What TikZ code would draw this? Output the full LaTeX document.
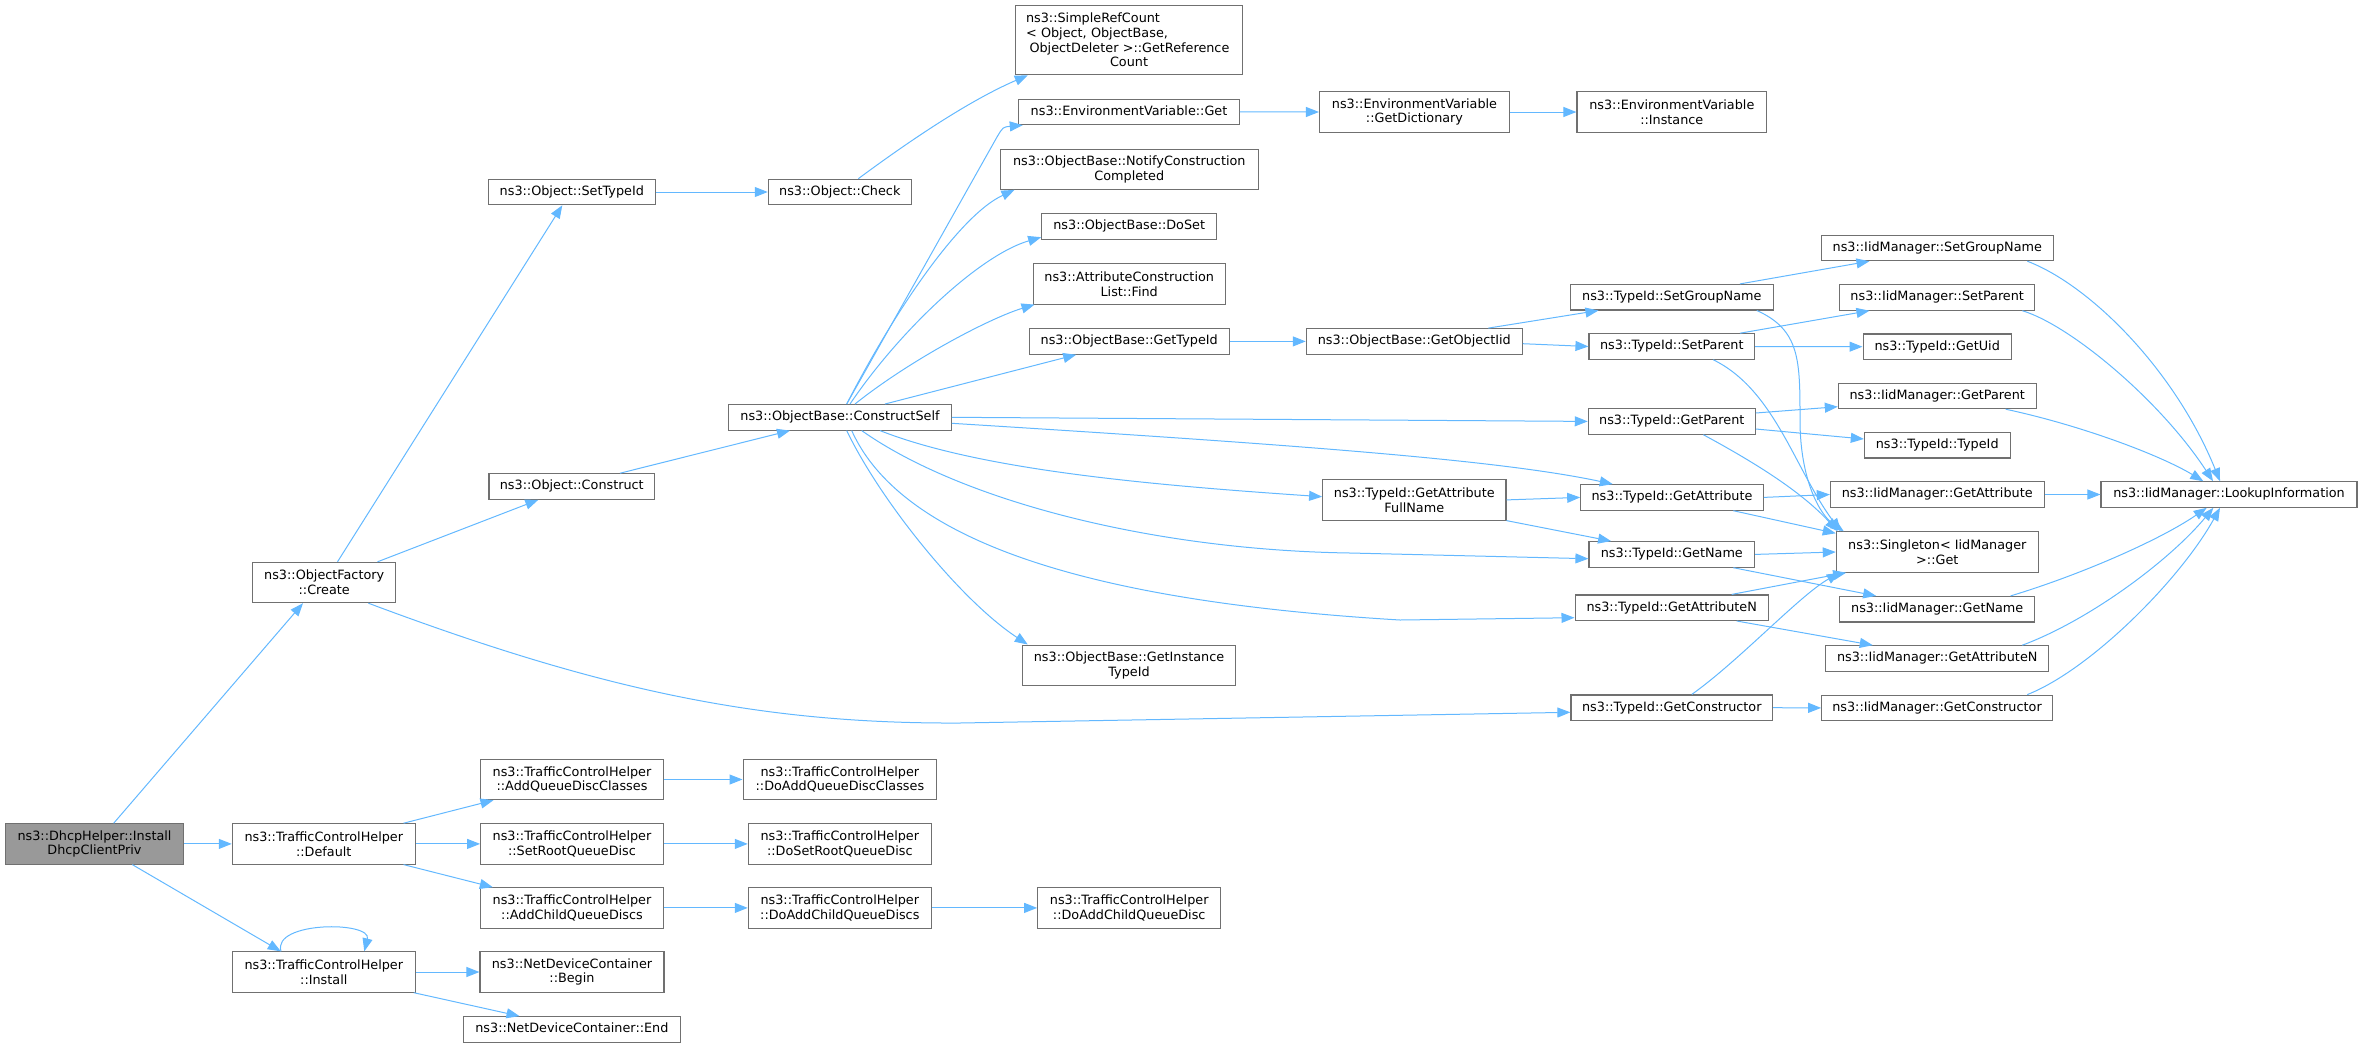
\documentclass[tikz,border=0pt]{standalone}
\usepackage{fontspec}
\setmainfont{DejaVu Sans}
\usetikzlibrary{arrows.meta}
\definecolor{callblue}{HTML}{63B8FF}
\definecolor{boxline}{HTML}{707070}
\definecolor{rootfill}{HTML}{999999}

\begin{document}
\begin{tikzpicture}[x=1pt,y=-1pt,
	fn/.style={draw=boxline,line width=1.1pt,fill=white,rectangle,inner sep=1pt,align=center,
		font=\fontsize{12.8pt}{14.7pt}\selectfont,minimum height=25.5pt},
	one/.style={text height=9.5pt,text depth=2.7pt},
	two/.style={minimum height=40.3pt},
	call/.style={draw=callblue,line width=1pt,-{Triangle[length=13pt,width=10pt]}}]
	\useasboundingbox (0,0) rectangle (2363,1047);
	% Nodes
	\node[fn,two,fill=rootfill,minimum width=177.6pt] (root) at (94.5,843.9) {ns3::DhcpHelper::Install\\DhcpClientPriv};
	\node[fn,two,minimum width=143pt] (create) at (324.2,582.5) {ns3::ObjectFactory\\::Create};
	\node[fn,one,minimum width=167pt] (settypeid) at (571.8,192) {ns3::Object::SetTypeId};
	\node[fn,one,minimum width=165.7pt] (construct) at (571.8,486.5) {ns3::Object::Construct};
	\node[fn,one,minimum width=143pt] (check) at (839.8,192) {ns3::Object::Check};
	\node[fn,one,minimum width=222.6pt] (constructself) at (840,417.3) {ns3::ObjectBase::ConstructSelf};
	\node[fn,align=left,text width=206pt,minimum width=227.4pt,minimum height=69.7pt] (refcount) at (1129,39.9)
		{ns3::SimpleRefCount\\< Object, ObjectBase,\\\hspace{3.5pt}ObjectDeleter >::GetReference\\\makebox[\hsize]{Count}};
	\node[fn,one,minimum width=220.6pt] (envget) at (1129,111.9) {ns3::EnvironmentVariable::Get};
	\node[fn,two,minimum width=190pt] (getdict) at (1414.5,112) {ns3::EnvironmentVariable\\::GetDictionary};
	\node[fn,two,minimum width=189.7pt] (instance) at (1671.8,112) {ns3::EnvironmentVariable\\::Instance};
	\node[fn,two,minimum width=258pt] (notify) at (1129.3,169.2) {ns3::ObjectBase::NotifyConstruction\\Completed};
	\node[fn,one,minimum width=175pt] (doset) at (1129.2,226.5) {ns3::ObjectBase::DoSet};
	\node[fn,two,minimum width=192.3pt] (find) at (1129.2,283.9) {ns3::AttributeConstruction\\List::Find};
	\node[fn,one,minimum width=200.3pt] (obgettypeid) at (1129.2,341.4) {ns3::ObjectBase::GetTypeId};
	\node[fn,two,minimum width=213.4pt] (instancetypeid) at (1129,665.2) {ns3::ObjectBase::GetInstance\\TypeId};
	\node[fn,one,minimum width=216pt] (getobjectiid) at (1414.3,341.4) {ns3::ObjectBase::GetObjectIid};
	\node[fn,two,minimum width=183.3pt] (fullname) at (1414.3,499.9) {ns3::TypeId::GetAttribute\\FullName};
	\node[fn,one,minimum width=203pt] (tsetgroupname) at (1671.8,297.2) {ns3::TypeId::SetGroupName};
	\node[fn,one,minimum width=165.7pt] (tsetparent) at (1671.8,346.5) {ns3::TypeId::SetParent};
	\node[fn,one,minimum width=167pt] (tgetparent) at (1671.8,421.4) {ns3::TypeId::GetParent};
	\node[fn,one,minimum width=182.6pt] (tgetattribute) at (1672,497.4) {ns3::TypeId::GetAttribute};
	\node[fn,one,minimum width=165.7pt] (tgetname) at (1671.8,554.4) {ns3::TypeId::GetName};
	\node[fn,one,minimum width=193.3pt] (tgetattributen) at (1671.7,607.7) {ns3::TypeId::GetAttributeN};
	\node[fn,one,minimum width=201.7pt] (tgetconstructor) at (1671.8,707.7) {ns3::TypeId::GetConstructor};
	\node[fn,one,minimum width=232pt] (isetgroupname) at (1937.3,247.9) {ns3::IidManager::SetGroupName};
	\node[fn,one,minimum width=195pt] (isetparent) at (1937.2,297.4) {ns3::IidManager::SetParent};
	\node[fn,one,minimum width=148.3pt] (tgetuid) at (1937.2,346.7) {ns3::TypeId::GetUid};
	\node[fn,one,minimum width=197.7pt] (igetparent) at (1937.2,395.9) {ns3::IidManager::GetParent};
	\node[fn,one,minimum width=145.7pt] (ttypeid) at (1937.2,445.2) {ns3::TypeId::TypeId};
	\node[fn,one,minimum width=213.7pt] (igetattribute) at (1937.2,494.5) {ns3::IidManager::GetAttribute};
	\node[fn,two,minimum width=202pt] (singleton) at (1937.3,552) {ns3::Singleton< IidManager\\>::Get};
	\node[fn,one,minimum width=195pt] (igetname) at (1937.2,609.2) {ns3::IidManager::GetName};
	\node[fn,one,minimum width=223pt] (igetattributen) at (1937.2,658.5) {ns3::IidManager::GetAttributeN};
	\node[fn,one,minimum width=230.6pt] (igetconstructor) at (1937,707.9) {ns3::IidManager::GetConstructor};
	\node[fn,one,minimum width=256pt] (lookup) at (2229,494.5) {ns3::IidManager::LookupInformation};
	\node[fn,two,minimum width=183pt] (tchdefault) at (323.8,843.9) {ns3::TrafficControlHelper\\::Default};
	\node[fn,two,minimum width=183pt] (tchinstall) at (323.8,972) {ns3::TrafficControlHelper\\::Install};
	\node[fn,two,minimum width=182.7pt] (addclasses) at (572,779.5) {ns3::TrafficControlHelper\\::AddQueueDiscClasses};
	\node[fn,two,minimum width=193.7pt] (doaddclasses) at (839.9,779.5) {ns3::TrafficControlHelper\\::DoAddQueueDiscClasses};
	\node[fn,two,minimum width=182.7pt] (setroot) at (572,843.9) {ns3::TrafficControlHelper\\::SetRootQueueDisc};
	\node[fn,two,minimum width=183pt] (dosetroot) at (839.8,843.9) {ns3::TrafficControlHelper\\::DoSetRootQueueDisc};
	\node[fn,two,minimum width=182.7pt] (addchild) at (572,907.9) {ns3::TrafficControlHelper\\::AddChildQueueDiscs};
	\node[fn,two,minimum width=183pt] (doaddchilds) at (839.8,907.9) {ns3::TrafficControlHelper\\::DoAddChildQueueDiscs};
	\node[fn,two,minimum width=183pt] (doaddchild) at (1129.2,907.9) {ns3::TrafficControlHelper\\::DoAddChildQueueDisc};
	\node[fn,two,minimum width=184pt] (ndcbegin) at (572,972) {ns3::NetDeviceContainer\\::Begin};
	\node[fn,one,minimum width=216.3pt] (ndcend) at (571.9,1029.4) {ns3::NetDeviceContainer::End};
	%Calls
	\draw [call] ([xshift=19.2pt]root.north) -- ([xshift=-21.2pt]create.south);
	\draw [call] (root.east) -- (tchdefault.west);
	\draw [call] ([xshift=37.8pt]root.south) -- ([xshift=-43pt]tchinstall.north);
	\draw [call] ([xshift=13.3pt]create.north) -- ([xshift=-9.5pt]settypeid.south);
	\draw [call] ([xshift=53.3pt]create.north) -- ([xshift=-33.5pt]construct.south);
	\draw [call] ([xshift=44.2pt]create.south) .. controls (600,690) and (760,724) .. (960,723) -- ([yshift=-4.6pt]tgetconstructor.west);
	\draw [call] (settypeid.east) -- (check.west);
	\draw [call] ([xshift=18.5pt]check.north) .. controls (920,133) and (975,98) .. ([xshift=13pt]refcount.south west);
	\draw [call] ([xshift=48.2pt]construct.north) -- ([xshift=-50pt]constructself.south);
	%ConstructSelf
	\draw [call] ([xshift=6.7pt]constructself.north) -- (997,137) .. controls (1003,127) .. ([xshift=4.6pt]envget.south west);
	\draw [call] ([xshift=6.7pt]constructself.north) .. controls (895,310) and (960,215) .. ([xshift=14.7pt]notify.south west);
	\draw [call] ([xshift=10pt]constructself.north) .. controls (900,330) and (980,255) .. ([yshift=2.6pt]doset.south west);
	\draw [call] ([xshift=15pt]constructself.north) .. controls (910,360) and (990,318) .. ([xshift=2pt]find.south west);
	\draw [call] ([xshift=45pt]constructself.north) -- ([xshift=47.7pt]obgettypeid.south west);
	\draw [call] (constructself.east) -- (tgetparent.west);
	\draw [call] ([yshift=-6pt]constructself.east) .. controls (1300,445) and (1500,460) .. ([xshift=32.6pt]tgetattribute.north west);
	\draw [call] ([xshift=40pt]constructself.south) .. controls (980,470) and (1150,485) .. ([yshift=3.2pt]fullname.west);
	\draw [call] ([xshift=21.7pt]constructself.south) .. controls (960,500) and (1150,550) .. (1350,553) -- ([yshift=-4.3pt]tgetname.west);
	\draw [call] ([xshift=11.7pt]constructself.south) .. controls (910,560) and (1150,605) .. (1400,620) -- ([yshift=-10pt]tgetattributen.west);
	\draw [call] ([xshift=6.7pt]constructself.south) .. controls (880,500) and (960,600) .. ([xshift=6pt]instancetypeid.north west);
	\draw [call] (envget.east) -- (getdict.west);
	\draw [call] (getdict.east) -- (instance.west);
	\draw [call] (obgettypeid.east) -- (getobjectiid.west);
	\draw [call] ([xshift=74pt]getobjectiid.north) -- ([xshift=28.7pt]tsetgroupname.south west);
	\draw [call] ([yshift=-2.3pt]getobjectiid.east) -- (tsetparent.west);
	%TypeId
	\draw [call] ([xshift=68.2pt]tsetgroupname.north) -- ([xshift=48.7pt]isetgroupname.south west);
	\draw [call] ([xshift=85pt]tsetgroupname.south) .. controls (1800,330) and (1800,360) .. (1800,420) .. controls (1800,480) and (1820,515) .. ([xshift=8pt]singleton.north west);
	\draw [call] ([xshift=68.2pt]tsetparent.north) -- ([xshift=30.3pt]isetparent.south west);
	\draw [call] (tsetparent.east) -- (tgetuid.west);
	\draw [call] ([xshift=41.5pt]tsetparent.south) .. controls (1775,390) and (1795,470) .. ([xshift=5pt]singleton.north west);
	\draw [call] ([yshift=8.4pt]tgetparent.east) -- ([yshift=-10.8pt]igetparent.west);
	\draw [call] ([yshift=-7.6pt]tgetparent.east) -- ([yshift=6.2pt]ttypeid.west);
	\draw [call] ([xshift=31.5pt]tgetparent.south) .. controls (1750,460) and (1800,490) .. ([xshift=2pt]singleton.north west);
	\draw [call] (fullname.east) -- (tgetattribute.west);
	\draw [call] (fullname.south east) -- ([xshift=22.7pt]tgetname.north west);
	\draw [call] (tgetattribute.east) -- (igetattribute.west);
	\draw [call] ([xshift=61.3pt]tgetattribute.south) -- ([yshift=-2pt]singleton.north west);
	\draw [call] (tgetname.east) -- (singleton.west);
	\draw [call] ([xshift=61.5pt]tgetname.south) -- ([xshift=37pt]igetname.north west);
	\draw [call] ([xshift=60pt]tgetattributen.north) -- ([xshift=10.4pt]singleton.south west);
	\draw [call] ([xshift=65pt]tgetattributen.south) -- ([xshift=47.6pt]igetattributen.north west);
	\draw [call] ([xshift=20pt]tgetconstructor.north) .. controls (1740,660) and (1800,595) .. ([xshift=4pt]singleton.south west);
	\draw [call] (tgetconstructor.east) -- (igetconstructor.west);
	%IidManager
	\draw [call] ([xshift=-26.6pt]isetgroupname.south east) .. controls (2090,285) and (2175,370) .. ([xshift=-9pt]lookup.north);
	\draw [call] ([xshift=-13pt]isetparent.south east) .. controls (2070,325) and (2160,400) .. ([xshift=-16pt]lookup.north);
	\draw [call] ([xshift=-31pt]igetparent.south east) .. controls (2080,425) and (2160,455) .. ([xshift=-25.7pt]lookup.north);
	\draw [call] (igetattribute.east) -- (lookup.west);
	\draw [call] ([xshift=-24.7pt]igetname.north east) .. controls (2080,575) and (2160,540) .. ([xshift=-22.3pt]lookup.south);
	\draw [call] ([xshift=-27pt]igetattributen.north east) .. controls (2090,620) and (2170,560) .. ([xshift=-15.7pt]lookup.south);
	\draw [call] ([xshift=-25.6pt]igetconstructor.north east) .. controls (2090,670) and (2180,580) .. ([xshift=-9pt]lookup.south);
	%TrafficControlHelper
	\draw [call] ([xshift=-12.3pt]tchdefault.north east) -- ([xshift=13.4pt]addclasses.south west);
	\draw [call] (tchdefault.east) -- (setroot.west);
	\draw [call] ([xshift=-12.3pt]tchdefault.south east) -- ([xshift=12.7pt]addchild.north west);
	\draw [call] (addclasses.east) -- (doaddclasses.west);
	\draw [call] (setroot.east) -- (dosetroot.west);
	\draw [call] (addchild.east) -- (doaddchilds.west);
	\draw [call] (doaddchilds.east) -- (doaddchild.west);
	\draw [call] ([xshift=-42.8pt]tchinstall.north) .. controls (272,921) and (372,921) .. ([xshift=40.5pt]tchinstall.north);
	\draw [call] (tchinstall.east) -- (ndcbegin.west);
	\draw [call] ([xshift=-2pt]tchinstall.south east) -- ([xshift=56.3pt]ndcend.north west);
\end{tikzpicture}
\end{document}
